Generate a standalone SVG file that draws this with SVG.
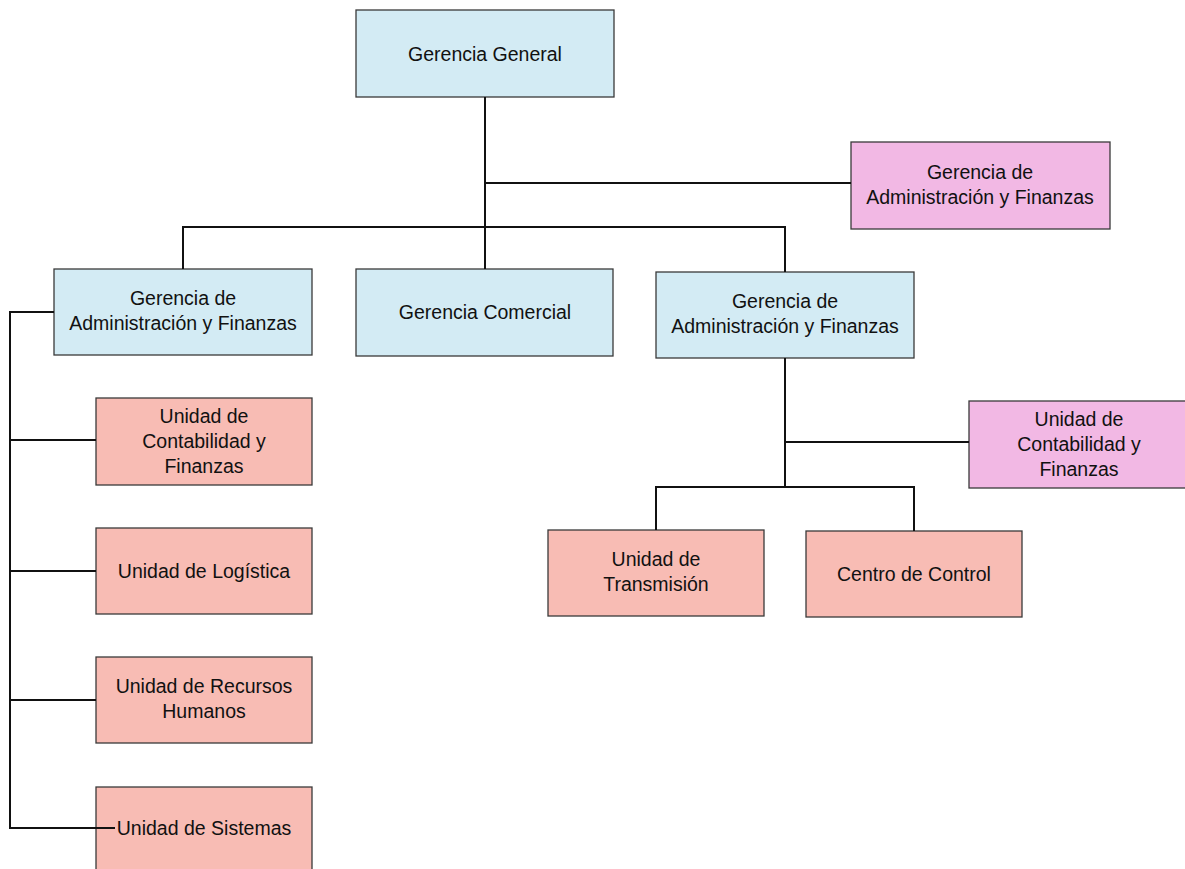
<svg xmlns="http://www.w3.org/2000/svg" width="1185" height="869" viewBox="0 0 1185 869">
<style>
.b{fill:#d3ebf4;stroke:#3a3a3a;stroke-width:1.3}
.m{fill:#f2b8e4;stroke:#3a3a3a;stroke-width:1.3}
.s{fill:#f8bcb4;stroke:#3a3a3a;stroke-width:1.3}
text{font-family:"Liberation Sans",Arial,sans-serif;font-size:19.5px;fill:#111;text-anchor:middle}
.c line{stroke:#111;stroke-width:2}
</style>
<rect width="1185" height="869" fill="#fff"/>
<g id="n-gg"><rect class="b" x="356" y="10" width="258" height="87"/><text x="485" y="61">Gerencia General</text></g>
<g id="n-gaf-top"><rect class="m" x="851" y="142" width="259" height="87"/><text x="980" y="179">Gerencia de</text><text x="980" y="204">Administración y Finanzas</text></g>
<g id="n-gaf-left"><rect class="b" x="54" y="269" width="258" height="86"/><text x="183" y="305">Gerencia de</text><text x="183" y="330">Administración y Finanzas</text></g>
<g id="n-gc"><rect class="b" x="356" y="269" width="257" height="87"/><text x="485" y="319">Gerencia Comercial</text></g>
<g id="n-gaf-right"><rect class="b" x="656" y="272" width="258" height="86"/><text x="785" y="308">Gerencia de</text><text x="785" y="333">Administración y Finanzas</text></g>
<g id="n-ucf"><rect class="s" x="96" y="398" width="216" height="87"/><text x="204" y="423">Unidad de</text><text x="204" y="448">Contabilidad y</text><text x="204" y="473">Finanzas</text></g>
<g id="n-ul"><rect class="s" x="96" y="528" width="216" height="86"/><text x="204" y="578">Unidad de Logística</text></g>
<g id="n-urh"><rect class="s" x="96" y="657" width="216" height="86"/><text x="204" y="693">Unidad de Recursos</text><text x="204" y="718">Humanos</text></g>
<g id="n-us"><rect class="s" x="96" y="787" width="216" height="90"/><text x="204" y="835">Unidad de Sistemas</text></g>
<g id="n-ucf2"><rect class="m" x="969" y="401" width="220" height="87"/><text x="1079" y="426">Unidad de</text><text x="1079" y="451">Contabilidad y</text><text x="1079" y="476">Finanzas</text></g>
<g id="n-ut"><rect class="s" x="548" y="530" width="216" height="86"/><text x="656" y="566">Unidad de</text><text x="656" y="591">Transmisión</text></g>
<g id="n-cc"><rect class="s" x="806" y="531" width="216" height="86"/><text x="914" y="581">Centro de Control</text></g>
<g class="c" id="connectors">
<line x1="485" y1="97" x2="485" y2="269"/>
<line x1="485" y1="183" x2="851" y2="183"/>
<line x1="183" y1="227" x2="785" y2="227"/>
<line x1="183" y1="226" x2="183" y2="269"/>
<line x1="785" y1="226" x2="785" y2="272"/>
<line x1="10" y1="312" x2="54" y2="312"/>
<line x1="10" y1="311" x2="10" y2="829"/>
<line x1="9" y1="440" x2="96" y2="440"/>
<line x1="9" y1="571" x2="96" y2="571"/>
<line x1="9" y1="700" x2="96" y2="700"/>
<line x1="9" y1="828" x2="115" y2="828"/>
<line x1="785" y1="358" x2="785" y2="487"/>
<line x1="785" y1="442" x2="969" y2="442"/>
<line x1="656" y1="487" x2="914" y2="487"/>
<line x1="656" y1="486" x2="656" y2="530"/>
<line x1="914" y1="486" x2="914" y2="531"/>
</g>
</svg>
